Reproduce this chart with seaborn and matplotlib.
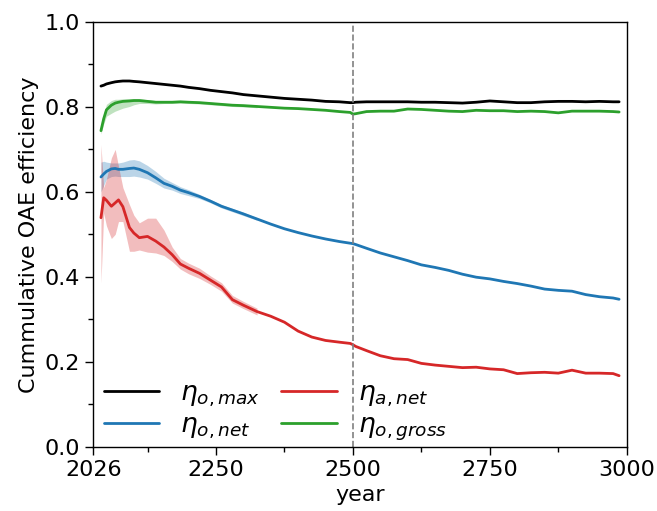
import numpy as np
import pandas as pd
import seaborn as sns
import matplotlib.pyplot as plt
from matplotlib.ticker import MultipleLocator, FixedLocator

years = [2040, 2045, 2050, 2059, 2066, 2072, 2080, 2092, 2100, 2110,
         2125, 2140, 2155, 2170, 2185, 2200, 2220, 2240, 2260, 2280,
         2300, 2325, 2350, 2375, 2400, 2425, 2450, 2475, 2495, 2500,
         2505, 2525, 2550, 2575, 2600, 2625, 2650, 2675, 2700, 2725,
         2750, 2775, 2800, 2825, 2850, 2875, 2900, 2925, 2950, 2975, 2986]

eta_o_max = [0.849, 0.851, 0.854, 0.857, 0.859, 0.860, 0.861, 0.861, 0.860, 0.859,
             0.857, 0.855, 0.853, 0.851, 0.849, 0.846, 0.843, 0.839, 0.836, 0.833,
             0.829, 0.826, 0.823, 0.820, 0.818, 0.816, 0.813, 0.812, 0.810, 0.810,
             0.811, 0.812, 0.812, 0.812, 0.812, 0.811, 0.811, 0.810, 0.809, 0.811,
             0.814, 0.812, 0.810, 0.810, 0.812, 0.813, 0.813, 0.812, 0.813, 0.812, 0.812]

eta_o_net = [0.635, 0.642, 0.648, 0.654, 0.655, 0.653, 0.653, 0.655, 0.656, 0.653,
             0.645, 0.633, 0.620, 0.613, 0.604, 0.598, 0.589, 0.578, 0.566, 0.557,
             0.548, 0.536, 0.524, 0.513, 0.504, 0.496, 0.489, 0.483, 0.479, 0.478,
             0.476, 0.467, 0.456, 0.447, 0.438, 0.428, 0.422, 0.415, 0.406, 0.399,
             0.395, 0.389, 0.384, 0.378, 0.371, 0.368, 0.366, 0.358, 0.353, 0.350, 0.347]

eta_a_net = [0.539, 0.586, 0.580, 0.566, 0.574, 0.581, 0.565, 0.516, 0.503, 0.492,
             0.495, 0.484, 0.470, 0.452, 0.430, 0.420, 0.408, 0.392, 0.376, 0.346,
             0.333, 0.318, 0.307, 0.293, 0.272, 0.258, 0.250, 0.246, 0.243, 0.240,
             0.236, 0.226, 0.214, 0.207, 0.205, 0.196, 0.192, 0.189, 0.186, 0.187,
             0.183, 0.181, 0.172, 0.174, 0.175, 0.173, 0.180, 0.173, 0.173, 0.172, 0.167]

eta_o_gross = [0.744, 0.772, 0.793, 0.804, 0.809, 0.811, 0.813, 0.814, 0.815, 0.815,
               0.813, 0.811, 0.811, 0.811, 0.812, 0.811, 0.810, 0.808, 0.806, 0.804,
               0.803, 0.801, 0.799, 0.797, 0.796, 0.794, 0.792, 0.789, 0.787, 0.783,
               0.784, 0.789, 0.790, 0.790, 0.795, 0.794, 0.792, 0.790, 0.789, 0.792,
               0.791, 0.791, 0.789, 0.790, 0.789, 0.786, 0.790, 0.790, 0.790, 0.789, 0.788]

# Spread bands (only visible early on), given on the first 22 years
band_years = years[:22]
o_net_lo = [0.600, 0.615, 0.630, 0.636, 0.637, 0.636, 0.636, 0.636, 0.637, 0.635, 0.630,
            0.620, 0.609, 0.604, 0.596, 0.591, 0.584, 0.574, 0.562, 0.553, 0.544, 0.533]
o_net_hi = [0.670, 0.672, 0.670, 0.668, 0.668, 0.668, 0.670, 0.675, 0.676, 0.673, 0.662,
            0.648, 0.632, 0.622, 0.612, 0.605, 0.594, 0.582, 0.570, 0.561, 0.552, 0.539]
a_net_lo = [0.385, 0.550, 0.520, 0.490, 0.500, 0.530, 0.530, 0.460, 0.460, 0.463, 0.458,
            0.456, 0.450, 0.436, 0.418, 0.407, 0.396, 0.382, 0.366, 0.338, 0.325, 0.310]
a_net_hi = [0.711, 0.610, 0.630, 0.680, 0.700, 0.660, 0.610, 0.570, 0.545, 0.527, 0.538,
            0.538, 0.510, 0.470, 0.443, 0.432, 0.420, 0.402, 0.386, 0.356, 0.342, 0.326]
o_gross_lo = [0.736, 0.760, 0.778, 0.785, 0.790, 0.793, 0.797, 0.801, 0.805, 0.808, 0.808,
              0.807, 0.808, 0.808, 0.809, 0.808, 0.807, 0.805, 0.803, 0.801, 0.800, 0.798]
o_gross_hi = [0.752, 0.785, 0.806, 0.815, 0.818, 0.818, 0.819, 0.819, 0.819, 0.819, 0.817,
              0.815, 0.814, 0.814, 0.815, 0.814, 0.813, 0.811, 0.809, 0.807, 0.806, 0.804]

labels = [r'$\eta_{o,max}$', r'$\eta_{o,net}$', r'$\eta_{a,net}$', r'$\eta_{o,gross}$']
colors = ['black', '#1f77b4', '#d62728', '#2ca02c']

sns.set_style('ticks')
plt.rcParams['font.family'] = ['DejaVu Sans']
plt.rcParams['font.size'] = 16
for k in ['text.color', 'axes.labelcolor', 'xtick.color', 'ytick.color', 'axes.edgecolor']:
    plt.rcParams[k] = 'black'

fig, ax = plt.subplots(figsize=(6.57, 5.11), dpi=100)
fig.subplots_adjust(left=0.142, right=0.954, top=0.957, bottom=0.126)

# shaded spreads
ax.fill_between(band_years, o_net_lo, o_net_hi, color=colors[1], alpha=0.3, lw=0)
ax.fill_between(band_years, a_net_lo, a_net_hi, color=colors[2], alpha=0.3, lw=0)
ax.fill_between(band_years, o_gross_lo, o_gross_hi, color=colors[3], alpha=0.3, lw=0)

df = pd.DataFrame({'year': years, 'max': eta_o_max, 'onet': eta_o_net,
                   'anet': eta_a_net, 'gross': eta_o_gross})
for col, lab, c in zip(['max', 'onet', 'anet', 'gross'], labels, colors):
    sns.lineplot(data=df, x='year', y=col, color=c, lw=2, label=lab, ax=ax)

ax.axvline(2500, color='gray', ls='--', lw=1.2)

ax.set_xlim(2026, 3000)
ax.set_ylim(0, 1.0)
ax.xaxis.set_major_locator(FixedLocator([2026, 2250, 2500, 2750, 3000]))
ax.xaxis.set_minor_locator(FixedLocator([2125, 2375, 2625, 2875]))
ax.yaxis.set_major_locator(MultipleLocator(0.2))
ax.yaxis.set_minor_locator(MultipleLocator(0.1))
ax.tick_params(which='major', length=6, width=1, labelsize=16)
ax.tick_params(which='minor', length=3.5, width=1)
for s in ax.spines.values():
    s.set_linewidth(1)
    s.set_color('black')

ax.set_xlabel('year', fontsize=16)
ax.set_ylabel('Cummulative OAE efficiency', fontsize=16)

ax.legend(loc='lower left', bbox_to_anchor=(0.0, -0.016), ncol=2, frameon=False,
          fontsize=19, columnspacing=0.8, handlelength=2.1, handletextpad=0.8,
          borderaxespad=0.0, borderpad=0.4, labelspacing=0.12)

fig.savefig('out.png', dpi=100)
